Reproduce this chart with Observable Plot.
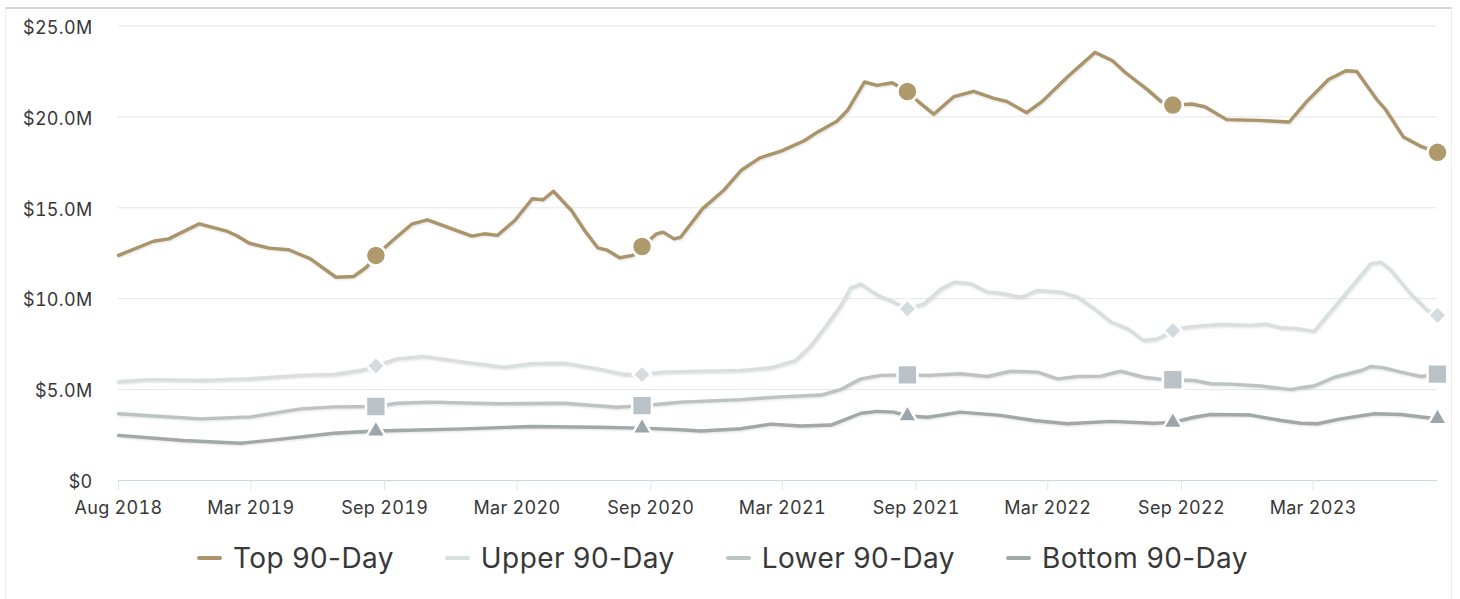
<!DOCTYPE html>
<html>
<head>
<meta charset="utf-8">
<script src="https://cdn.jsdelivr.net/npm/d3@7"></script>
<script src="https://cdn.jsdelivr.net/npm/@observablehq/plot@0.6"></script>
<style>
  html, body { margin: 0; padding: 0; background: #fff; }
  body { width: 1460px; height: 599px; position: relative; overflow: hidden; font-family: Inter, "Open Sans", sans-serif; }
  #frame { position: absolute; left: 5px; top: 7px; width: 1447px; height: 640px; box-sizing: border-box;
           border: 1px solid #ededed; border-top: 2px solid #d4d4d4; }
  #chart { position: absolute; left: 0; top: 0; }
  #chart text { letter-spacing: 0.3px; }
  #legend { position: absolute; left: 197px; top: 538px; height: 40px; display: flex;
            align-items: center; gap: 51px; }
  .item { display: flex; align-items: center; gap: 11px; font-size: 28px; letter-spacing: 0.4px; color: #383838; }
  .swatch { width: 25px; height: 4px; border-radius: 2px; }
</style>
</head>
<body>
<div id="frame"></div>
<div id="chart"></div>
<div id="legend"></div>
<script>
// Series names, colours and marker shapes
const seriesNames = ["Top 90-Day", "Upper 90-Day", "Lower 90-Day", "Bottom 90-Day"];
const lineColors = ["#aa946a", "#d8dfdf", "#bcc3c3", "#a0a8a8"];
const markerColors = ["#af9a6d", "#d3dbdf", "#bac2c8", "#9ca5a9"];
const markerSymbols = ["circle", "diamond2", "square", "triangle2"];
const markerRadius = [10, 8.3, 11.2, 9.3];

// Yearly marker dates
const markerDates = ["2019-08-20", "2020-08-20", "2021-08-20", "2022-08-20", "2023-08-19"];

// Axis ticks
const xTickDates = ["2018-08-31", "2019-03-01", "2019-09-01", "2020-03-01", "2020-09-01",
                    "2021-03-01", "2021-09-01", "2022-03-01", "2022-09-01", "2023-03-01"];
const xTickLabels = ["Aug 2018", "Mar 2019", "Sep 2019", "Mar 2020", "Sep 2020",
                     "Mar 2021", "Sep 2021", "Mar 2022", "Sep 2022", "Mar 2023"];
const yTicks = [0, 5, 10, 15, 20, 25];
const yTickLabels = ["$0", "$5.0M", "$10.0M", "$15.0M", "$20.0M", "$25.0M"];

// Top 90-Day ($M)
const topDates = ["2018-08-31","2018-10-18","2018-11-08","2018-12-20","2019-01-28","2019-02-09","2019-02-27",
  "2019-03-26","2019-04-22","2019-05-22","2019-06-26","2019-07-20","2019-08-07","2019-08-20","2019-09-12",
  "2019-10-09","2019-10-30","2019-11-29","2019-12-30","2020-01-16","2020-02-03","2020-02-27","2020-03-22",
  "2020-04-06","2020-04-20","2020-05-15","2020-06-02","2020-06-20","2020-07-02","2020-07-20","2020-08-07",
  "2020-08-20","2020-09-09","2020-09-18","2020-10-03","2020-10-12","2020-11-11","2020-12-10","2021-01-03",
  "2021-01-29","2021-02-28","2021-03-31","2021-04-18","2021-05-15","2021-05-30","2021-06-22","2021-07-09",
  "2021-07-30","2021-08-20","2021-09-04","2021-09-25","2021-10-23","2021-11-19","2021-12-16","2022-01-04",
  "2022-01-31","2022-02-21","2022-03-29","2022-05-05","2022-05-29","2022-06-16","2022-07-16","2022-08-04",
  "2022-08-20","2022-09-15","2022-10-03","2022-11-02","2022-12-15","2023-01-27","2023-02-20","2023-03-22",
  "2023-04-15","2023-04-30","2023-05-28","2023-06-09","2023-07-03","2023-07-27","2023-08-19"];
const topValues = [12.38,13.16,13.29,14.12,13.70,13.48,13.05,
  12.78,12.69,12.19,11.18,11.22,11.73,12.38,13.20,
  14.12,14.34,13.90,13.44,13.57,13.48,14.30,15.50,
  15.44,15.91,14.85,13.75,12.80,12.69,12.25,12.38,
  12.87,13.57,13.66,13.29,13.38,14.94,15.95,17.05,
  17.75,18.13,18.69,19.16,19.76,20.38,21.92,21.73,
  21.88,21.40,20.84,20.15,21.12,21.40,21.03,20.84,
  20.23,20.84,22.24,23.55,23.09,22.43,21.50,20.84,
  20.65,20.71,20.56,19.85,19.81,19.72,20.84,22.06,
  22.54,22.50,20.93,20.38,18.90,18.38,18.05];

// Upper 90-Day ($M)
const upperDates = ["2018-08-31","2018-10-14","2018-12-22","2019-03-01","2019-05-08","2019-06-23","2019-07-30",
  "2019-08-20","2019-09-18","2019-10-25","2019-12-19","2020-02-12","2020-03-20","2020-05-05","2020-06-20",
  "2020-07-26","2020-08-20","2020-09-19","2020-11-09","2021-01-03","2021-02-13","2021-03-19","2021-04-09",
  "2021-04-30","2021-05-20","2021-06-03","2021-06-17","2021-07-10","2021-08-01","2021-08-20","2021-09-12",
  "2021-10-05","2021-10-23","2021-11-15","2021-12-08","2021-12-31","2022-01-23","2022-02-15","2022-03-19",
  "2022-04-11","2022-05-04","2022-05-27","2022-06-19","2022-07-11","2022-07-30","2022-08-20","2022-09-09",
  "2022-10-07","2022-10-25","2022-12-05","2022-12-26","2023-01-16","2023-02-05","2023-03-02","2023-03-30",
  "2023-04-26","2023-05-19","2023-06-02","2023-06-16","2023-07-13","2023-08-05","2023-08-19"];
const upperValues = [5.43,5.55,5.50,5.60,5.78,5.83,6.05,
  6.30,6.69,6.82,6.51,6.23,6.42,6.45,6.14,
  5.83,5.83,5.96,6.01,6.05,6.20,6.60,7.40,
  8.50,9.60,10.60,10.80,10.18,9.81,9.44,9.72,
  10.54,10.91,10.82,10.36,10.27,10.08,10.45,10.36,
  10.08,9.44,8.71,8.34,7.70,7.79,8.25,8.43,
  8.53,8.58,8.53,8.60,8.40,8.36,8.20,9.53,
  10.82,11.92,12.01,11.55,10.27,9.35,9.08];

// Lower 90-Day ($M)
const lowerDates = ["2018-08-31","2018-12-22","2019-03-01","2019-05-08","2019-06-23","2019-08-20","2019-09-18",
  "2019-11-03","2020-02-03","2020-05-05","2020-07-17","2020-08-20","2020-09-19","2020-10-12","2021-01-03",
  "2021-02-26","2021-04-23","2021-05-20","2021-06-17","2021-07-14","2021-08-20","2021-09-17","2021-11-01",
  "2021-12-08","2022-01-09","2022-02-15","2022-03-14","2022-04-11","2022-05-13","2022-06-09","2022-07-11",
  "2022-07-30","2022-08-20","2022-09-18","2022-10-11","2022-11-08","2022-12-19","2023-01-29","2023-02-12",
  "2023-03-02","2023-03-30","2023-05-06","2023-05-19","2023-06-06","2023-06-30","2023-07-27","2023-08-19"];
const lowerValues = [3.67,3.39,3.50,3.94,4.05,4.07,4.25,
  4.31,4.22,4.25,4.03,4.12,4.22,4.31,4.45,
  4.60,4.70,5.00,5.59,5.78,5.81,5.78,5.87,
  5.72,6.01,5.96,5.59,5.72,5.74,6.01,5.68,
  5.59,5.54,5.50,5.32,5.30,5.20,5.00,5.10,
  5.20,5.68,6.05,6.27,6.20,5.96,5.72,5.85];

// Bottom 90-Day ($M)
const bottomDates = ["2018-08-31","2018-11-28","2019-02-15","2019-04-15","2019-06-23","2019-08-20","2019-09-18",
  "2019-12-19","2020-03-20","2020-06-20","2020-08-20","2020-10-12","2020-11-09","2021-01-03","2021-02-13",
  "2021-03-26","2021-05-07","2021-06-17","2021-07-10","2021-08-01","2021-08-20","2021-09-17","2021-11-01",
  "2021-12-26","2022-02-10","2022-03-28","2022-05-27","2022-07-25","2022-08-20","2022-09-18","2022-10-11",
  "2022-12-05","2023-01-16","2023-02-12","2023-03-07","2023-04-08","2023-05-24","2023-06-30","2023-07-31",
  "2023-08-19"];
const bottomValues = [2.48,2.20,2.05,2.29,2.60,2.72,2.75,
  2.84,2.97,2.93,2.88,2.79,2.72,2.85,3.10,
  3.00,3.05,3.70,3.80,3.76,3.55,3.48,3.76,
  3.58,3.30,3.12,3.25,3.15,3.20,3.48,3.63,
  3.60,3.30,3.15,3.12,3.39,3.67,3.63,3.48,
  3.40];

const parse = d3.utcParse("%Y-%m-%d");
const seriesDates = [topDates, upperDates, lowerDates, bottomDates];
const seriesValues = [topValues, upperValues, lowerValues, bottomValues];

const rows = seriesNames.flatMap((name, s) =>
  seriesDates[s].map((d, i) => ({series: s, name, date: parse(d), key: d, value: seriesValues[s][i]})));
const markerRows = rows.filter(r => markerDates.includes(r.key));

const tickDates = xTickDates.map(parse);
const xLabel = new Map(xTickDates.map((d, i) => [+parse(d), xTickLabels[i]]));
const yLabel = new Map(yTicks.map((v, i) => [v, yTickLabels[i]]));

const marks = [
  Plot.ruleY(yTicks.filter(v => v > 0), {stroke: "#e6e6e6", strokeWidth: 1}),
  Plot.ruleY([0], {stroke: "#ccd6eb", strokeWidth: 1}),
  Plot.axisY({ticks: yTicks, tickSize: 0, tickPadding: 26, tickFormat: v => yLabel.get(v),
              fontSize: 18, fill: "#383838", dy: 2, label: null}),
  Plot.axisX({ticks: tickDates, tickSize: 10, tickPadding: 11, tickFormat: d => xLabel.get(+d),
              fontSize: 18, fill: "#383838", stroke: "#dfe3ea", label: null})
];
// Lines drawn bottom series first so the top line sits above
for (let s = seriesNames.length - 1; s >= 0; s--) {
  marks.push(Plot.line(rows.filter(r => r.series === s), {
    x: "date", y: "value", stroke: lineColors[s], strokeWidth: 3.4,
    strokeLinejoin: "round", strokeLinecap: "round"
  }));
}
for (let s = seriesNames.length - 1; s >= 0; s--) {
  marks.push(Plot.dot(markerRows.filter(r => r.series === s), {
    x: "date", y: "value", symbol: markerSymbols[s], r: markerRadius[s],
    fill: markerColors[s], stroke: "white", strokeWidth: 2.5
  }));
}

const chart = Plot.plot({
  width: 1460,
  height: 520,
  marginLeft: 118,
  marginRight: 23,
  marginTop: 25.5,
  marginBottom: 40,
  style: {fontFamily: "Inter, 'Open Sans', sans-serif", background: "transparent", color: "#383838"},
  x: {type: "utc", domain: [parse("2018-08-31"), parse("2023-08-19")], label: null},
  y: {domain: [0, 25], label: null},
  marks
});
chart.querySelectorAll('g[aria-label="line"] path').forEach(p => {
  p.style.filter = "drop-shadow(1px 1px 1px rgba(0,0,0,0.12))";
});
document.getElementById("chart").appendChild(chart);

// Legend below the plot
const legend = document.getElementById("legend");
seriesNames.forEach((name, s) => {
  const item = document.createElement("div");
  item.className = "item";
  const sw = document.createElement("span");
  sw.className = "swatch";
  sw.style.background = lineColors[s];
  const label = document.createElement("span");
  label.textContent = name;
  item.append(sw, label);
  legend.appendChild(item);
});
</script>
</body>
</html>
